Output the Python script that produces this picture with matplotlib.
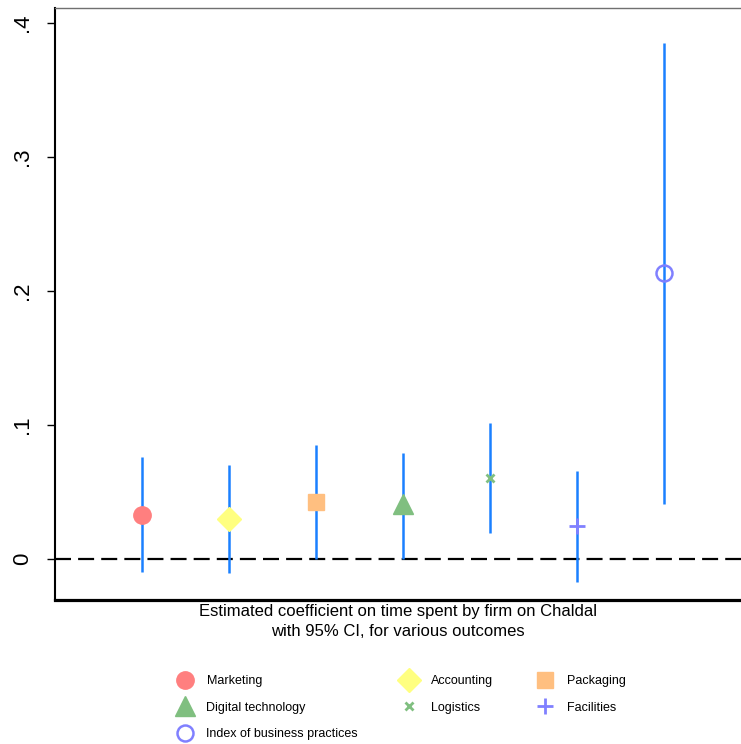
import matplotlib
matplotlib.use("Agg")
import matplotlib.pyplot as plt

plt.rcParams['font.family'] = ['Liberation Sans', 'DejaVu Sans']

outcomes = ["Marketing", "Accounting", "Packaging", "Digital technology",
            "Logistics", "Facilities", "Index of business practices"]
coef = [0.0328, 0.0298, 0.0423, 0.0408, 0.0604, 0.0244, 0.2132]
ci_low = [-0.0097, -0.0102, 0.0000, 0.0000, 0.0192, -0.0174, 0.0408]
ci_high = [0.0759, 0.0701, 0.0848, 0.0789, 0.1013, 0.0659, 0.3853]
positions = [1, 2, 3, 4, 5, 6, 7]
yticks = [0, 0.1, 0.2, 0.3, 0.4]
ytick_labels = ["0", ".1", ".2", ".3", ".4"]

styles = {
    "Marketing": dict(marker='o', ms=12.5, mfc='#ff7f7f', mec='#ff7f7f'),
    "Accounting": dict(marker='D', ms=12, mfc='#ffff80', mec='#ffff80'),
    "Packaging": dict(marker='s', ms=12, mfc='#ffbf80', mec='#ffbf80'),
    "Digital technology": dict(marker='^', ms=14, mfc='#80bf80', mec='#80bf80'),
    "Logistics": dict(marker='x', ms=6, mfc='#80bf80', mec='#80bf80', mew=2),
    "Facilities": dict(marker='+', ms=11, mfc='#8080ff', mec='#8080ff', mew=2),
    "Index of business practices": dict(marker='o', ms=11.5, mfc='none', mec='#8080ff', mew=1.8),
}
line_color = '#1a80ff'

fig = plt.figure(figsize=(7.41, 7.44), dpi=100)
ax = fig.add_axes([55/741, 1 - 600/744, 1 - 55/741, (600 - 8)/744])

ax.axhline(0, color='black', lw=1.6, dashes=(7.2, 3.2), zorder=1)

handles = {}
for name, x, c, lo, hi in zip(outcomes, positions, coef, ci_low, ci_high):
    ax.vlines(x, lo, hi, color=line_color, lw=1.8, zorder=2)
    h, = ax.plot([x], [c], ls='none', zorder=3, label=name, **styles[name])
    handles[name] = h

ax.set_xlim(0, (741 - 55) / 87)
ax.set_ylim(-0.0306, 0.4112)
ax.set_xticks([])
ax.set_yticks(yticks)
ax.set_yticklabels(ytick_labels, rotation=90, va='center', fontsize=16)
ax.tick_params(axis='y', length=6, width=1, pad=10)

ax.spines['right'].set_visible(False)
ax.spines['top'].set_color('#707070')
ax.spines['top'].set_linewidth(1)
ax.spines['left'].set_linewidth(1.5)
ax.spines['bottom'].set_linewidth(2.3)

ax.set_xlabel("Estimated coefficient on time spent by firm on Chaldal\nwith 95% CI, for various outcomes",
              fontsize=12, labelpad=3, linespacing=1.4)

order = ["Marketing", "Digital technology", "Index of business practices",
         "Accounting", "Logistics", "Packaging", "Facilities"]
fig.legend([handles[n] for n in order], order, loc='upper center',
           bbox_to_anchor=(400/741, 1 - 664/744), ncol=3, frameon=False,
           fontsize=9, handlelength=1.6, handletextpad=0.95, columnspacing=3.3,
           labelspacing=1.15, numpoints=1)

fig.savefig("out.png", dpi=100)
